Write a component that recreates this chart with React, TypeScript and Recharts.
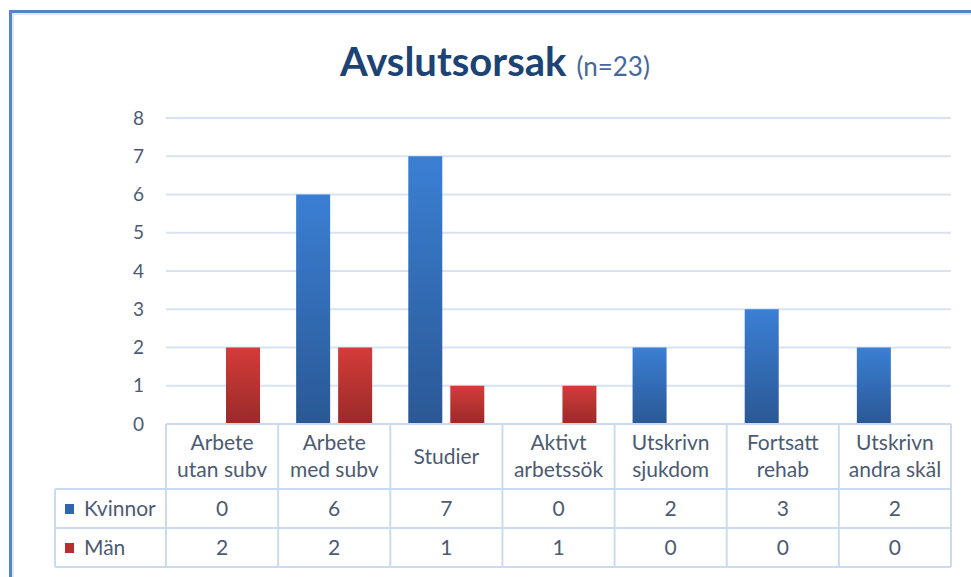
import { BarChart, Bar, XAxis, YAxis, CartesianGrid } from "recharts";

const categories = [
  "Arbete\nutan subv",
  "Arbete\nmed subv",
  "Studier",
  "Aktivt\narbetssök",
  "Utskrivn\nsjukdom",
  "Fortsatt\nrehab",
  "Utskrivn\nandra skäl",
];
const kvinnor = [0, 6, 7, 0, 2, 3, 2];
const man = [2, 2, 1, 1, 0, 0, 0];
const seriesNames = ["Kvinnor", "Män"];
const seriesKeys = ["kvinnor", "man"];
const yTicks = [0, 1, 2, 3, 4, 5, 6, 7, 8];

const data = categories.map((name, i) => ({
  name,
  kvinnor: kvinnor[i],
  man: man[i],
}));

const legendColors = ["#2f66b0", "#b52f2f"];
const border = "#cbdbef";
const textColor = "#4b5b73";
const HEAD_H = 65;
const ROW_H = 39;
const LEGEND_W = 111;

function TableTick(props: any) {
  const { x, y, payload, index } = props;
  const half = payload && payload.offset ? payload.offset : 56;
  const left = x - half;
  const right = x + half;
  const lines = String(payload.value).split("\n");
  const rows = [kvinnor, man];
  const bottom = y + HEAD_H + ROW_H * 2;
  return (
    <g>
      {index === 0 && (
        <g>
          <line x1={left} x2={left} y1={y} y2={bottom} stroke={border} strokeWidth={2} />
          <line x1={left - LEGEND_W} x2={left - LEGEND_W} y1={y + HEAD_H} y2={bottom} stroke={border} strokeWidth={2} />
          {[0, 1, 2].map((r) => (
            <line
              key={r}
              x1={left - LEGEND_W}
              x2={left}
              y1={y + HEAD_H + ROW_H * r}
              y2={y + HEAD_H + ROW_H * r}
              stroke={border}
              strokeWidth={2}
            />
          ))}
          {seriesNames.map((s, r) => (
            <g key={s}>
              <rect
                x={left - LEGEND_W + 10}
                y={y + HEAD_H + ROW_H * r + 15}
                width={9}
                height={10}
                fill={legendColors[r]}
              />
              <text
                x={left - LEGEND_W + 29}
                y={y + HEAD_H + ROW_H * r + 27}
                fill={textColor}
                fontSize={21}
              >
                {s}
              </text>
            </g>
          ))}
        </g>
      )}
      <line x1={right} x2={right} y1={y} y2={bottom} stroke={border} strokeWidth={2} />
      {[0, 1, 2, 3].map((r) => {
        const ly = r === 0 ? y : y + HEAD_H + ROW_H * (r - 1);
        return <line key={r} x1={left} x2={right} y1={ly} y2={ly} stroke={border} strokeWidth={2} />;
      })}
      {lines.map((l, i) => (
        <text
          key={i}
          x={x}
          y={lines.length === 1 ? y + 40 : y + 26 + i * 27}
          textAnchor="middle"
          fill={textColor}
          fontSize={21}
        >
          {l}
        </text>
      ))}
      {rows.map((vals, r) => (
        <text
          key={r}
          x={x}
          y={y + HEAD_H + ROW_H * r + 27}
          textAnchor="middle"
          fill={textColor}
          fontSize={21}
        >
          {vals[index]}
        </text>
      ))}
    </g>
  );
}

export default function App() {
  return (
    <div
      style={{
        position: "absolute",
        left: 0,
        top: 0,
        width: 971,
        height: 577,
        background: "#ffffff",
        overflow: "hidden",
        fontFamily: "Lato, 'Open Sans', sans-serif",
      }}
    >
      <div
        style={{
          position: "absolute",
          left: 9,
          top: 10,
          width: 980,
          height: 600,
          borderLeft: "3px solid #5585c4",
          borderTop: "3px solid #5585c4",
          boxShadow: "inset 2px 2px 0 #dfe8f4",
        }}
      />
      <svg style={{ position: "absolute", left: 0, top: 0 }} width={971} height={100}>
        <text x={495} y={76} textAnchor="middle">
          <tspan fontWeight={700} fontSize={40} fill="#1d4375">
            Avslutsorsak
          </tspan>
          <tspan fontSize={26} fill="#45689a" dx={10}>
            (n=23)
          </tspan>
        </text>
      </svg>
      <div style={{ position: "absolute", left: 0, top: 0 }}>
        <BarChart
          width={971}
          height={577}
          data={data}
          margin={{ top: 118, right: 20, bottom: 0, left: 0 }}
          barCategoryGap={18}
          barGap={8}
        >
          <defs>
            <linearGradient id="gradBlue" x1="0" y1="0" x2="0" y2="1">
              <stop offset="0%" stopColor="#3b7fd4" />
              <stop offset="100%" stopColor="#2a5894" />
            </linearGradient>
            <linearGradient id="gradRed" x1="0" y1="0" x2="0" y2="1">
              <stop offset="0%" stopColor="#d43c3a" />
              <stop offset="100%" stopColor="#992a28" />
            </linearGradient>
          </defs>
          <CartesianGrid vertical={false} stroke="#d8e3f2" strokeWidth={2} />
          <YAxis
            width={166}
            domain={[0, 8]}
            ticks={yTicks}
            interval={0}
            axisLine={false}
            tickLine={false}
            tickSize={0}
            tickMargin={22}
            tick={{ fill: textColor, fontSize: 19 }}
          />
          <XAxis
            dataKey="name"
            height={153}
            interval={0}
            axisLine={false}
            tickLine={false}
            tickSize={0}
            tickMargin={0}
            tick={<TableTick />}
          />
          <Bar dataKey={seriesKeys[0]} name={seriesNames[0]} fill="url(#gradBlue)" isAnimationActive={false} />
          <Bar dataKey={seriesKeys[1]} name={seriesNames[1]} fill="url(#gradRed)" isAnimationActive={false} />
        </BarChart>
      </div>
    </div>
  );
}
